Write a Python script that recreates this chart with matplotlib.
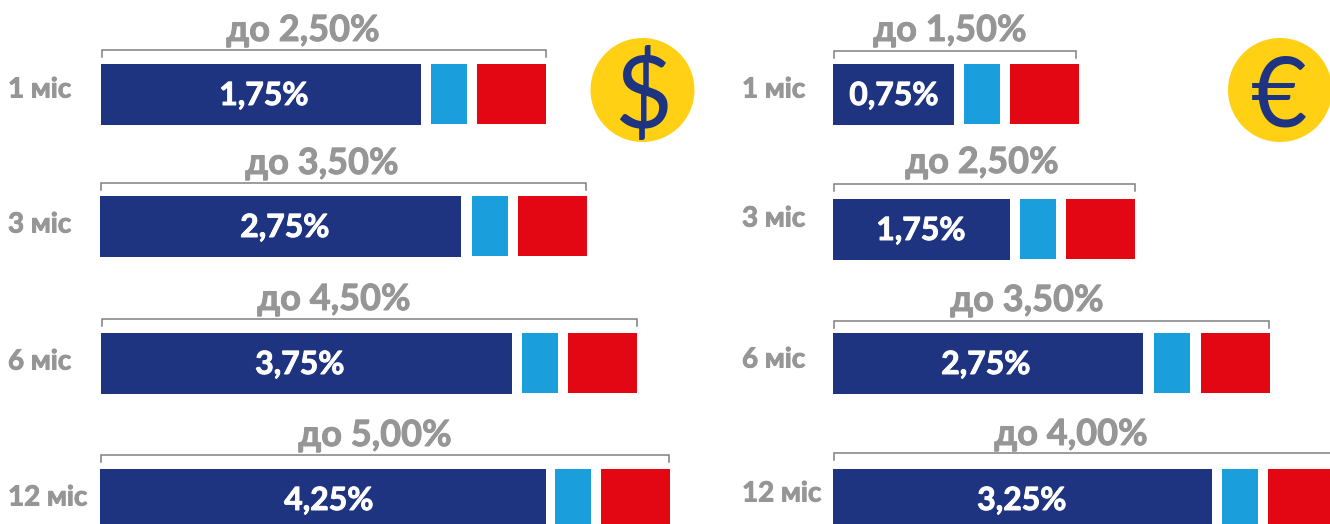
import matplotlib
matplotlib.use('Agg')
import matplotlib.pyplot as plt
import matplotlib.patheffects as pe
from matplotlib.patches import Circle

plt.rcParams['font.family'] = ['Lato', 'DejaVu Sans']

periods = ['1 міс', '3 міс', '6 міс', '12 міс']

# bar lengths are not quite to scale in the original
usd_rates = ['1,75%', '2,75%', '3,75%', '4,25%']
usd_totals = ['до 2,50%', 'до 3,50%', 'до 4,50%', 'до 5,00%']
usd_main = [320, 361, 411, 446]
usd_light = [36, 36, 36, 36]
usd_red = [69, 69, 69, 69]

eur_rates = ['0,75%', '1,75%', '2,75%', '3,25%']
eur_totals = ['до 1,50%', 'до 2,50%', 'до 3,50%', 'до 4,00%']
eur_main = [121, 177, 310, 379]
eur_light = [36, 36, 36, 36]
eur_red = [69, 69, 69, 69]

NAVY = '#1e3480'
LIGHT = '#1a9fdc'
RED = '#e30613'
GREY = '#969696'
BRACKET = '#808080'
YELLOW = '#ffd014'

fig = plt.figure(figsize=(13.3, 5.24), dpi=100)
ax = fig.add_axes([0, 0, 1, 1])
ax.set_xlim(0, 1330)
ax.set_ylim(524, 0)
ax.axis('off')


def heavy(color, w=0.7):
    return [pe.withStroke(linewidth=w, foreground=color)]


def draw_panel(x0, tops, gaps, brackets, bracket_ends, title_pos, label_pos, value_x,
               main, light, red, rates, totals):
    for i in range(len(periods)):
        top = tops[i]
        bar_h = min(61, 524 - top)
        ax.barh(top, main[i], height=bar_h, left=x0[i], align='edge', color=NAVY)
        x = x0[i] + main[i] + gaps[i]
        h2 = bar_h - 1 if bar_h == 61 else bar_h
        ax.barh(top, light[i], height=h2, left=x, align='edge', color=LIGHT)
        x = x + light[i] + gaps[i]
        ax.barh(top, red[i], height=h2, left=x, align='edge', color=RED)

        by = brackets[i]
        ax.plot([x0[i] + 0.5, x0[i] + 0.5, bracket_ends[i], bracket_ends[i]],
                [by + 7, by, by, by + 7], color=BRACKET, lw=1.1, solid_joinstyle='miter')

        ax.text(title_pos[i][0], title_pos[i][1] + 0.5, totals[i], color=GREY, fontsize=26,
                fontweight='bold', ha='center', va='center', path_effects=heavy(GREY))
        ax.text(label_pos[i][0], label_pos[i][1] + 1.5, periods[i], color=GREY, fontsize=20,
                fontweight='bold', ha='left', va='center', path_effects=heavy(GREY))
        ax.text(value_x[i], top + 31.5, rates[i], color='white', fontsize=23,
                fontweight='bold', ha='center', va='center', path_effects=heavy('white'))


draw_panel([101, 100, 101, 100], [64, 196, 333, 469], [10, 10.5, 10, 9.3],
           [50, 183, 319, 455], [546, 586, 637, 669],
           [(303, 30), (322, 163), (334, 299), (375, 435)],
           [(8, 88), (8, 223), (8, 360), (8, 496)],
           [264, 285, 300, 329],
           usd_main, usd_light, usd_red, usd_rates, usd_totals)

draw_panel([833, 833, 833, 833], [64, 199, 333, 469], [10, 10, 11, 10],
           [51, 184, 321, 453], [1076, 1135, 1269, 1332],
           [(950, 30), (982, 162), (1027, 300), (1071, 434)],
           [(742, 88), (742, 217), (742, 358), (742, 492)],
           [894, 921, 986, 1022],
           eur_main, eur_light, eur_red, eur_rates, eur_totals)

# currency badges
ax.add_patch(Circle((642.5, 90), 52, color=YELLOW, lw=0))
ax.add_patch(Circle((1280, 90), 52, color=YELLOW, lw=0))
ax.text(643.5, 89, '$', color=NAVY, fontsize=72, ha='center', va='center_baseline', fontweight='normal')
ax.text(1279, 91, '€', color=NAVY, fontsize=70, ha='center', va='center_baseline', fontweight='normal')

fig.savefig('out.png', dpi=100)
